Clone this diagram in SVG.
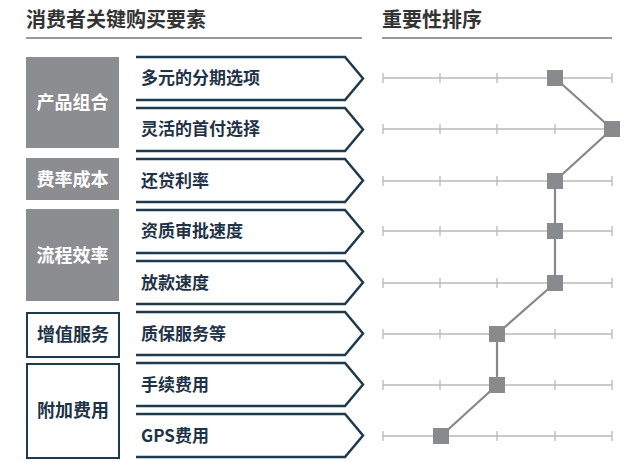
<svg xmlns="http://www.w3.org/2000/svg" width="640" height="462" viewBox="0 0 640 462">
<style>
text{font-family:"Noto Sans CJK SC","Liberation Sans",sans-serif;font-weight:bold}
.h{font-size:20px;fill:#333}
.g{font-size:18px;fill:#fff}
.gd{font-size:18px;fill:#1f3347}
.b{font-size:17px;fill:#1f3347}
.c{fill:none;stroke:#1f3a4d;stroke-width:2.5;stroke-linejoin:miter}
.gb{fill:#8b8d91}
.wb{fill:#fff;stroke:#1f3a4d;stroke-width:2}
.ax{stroke:#b8b8b8;stroke-width:1.3}
.sq{fill:#888a8e}
</style>
<defs>
<polyline id="chev" class="c" points="136,0 345,0 363,21.5 345,43 136,43"/>
<g id="axis">
<line class="ax" x1="383" y1="0" x2="612" y2="0"/>
<line class="ax" x1="383" y1="-5" x2="383" y2="5"/>
<line class="ax" x1="440" y1="-5" x2="440" y2="5"/>
<line class="ax" x1="497" y1="-5" x2="497" y2="5"/>
<line class="ax" x1="555" y1="-5" x2="555" y2="5"/>
<line class="ax" x1="612" y1="-5" x2="612" y2="5"/>
</g>
<rect id="sq" class="sq" x="-8" y="-8" width="16" height="16"/>
</defs>
<rect width="640" height="462" fill="#fff"/>
<text class="h" x="26" y="27">消费者关键购买要素</text>
<line x1="26" y1="38" x2="362" y2="38" stroke="#777" stroke-width="1.5"/>
<text class="h" x="382" y="27">重要性排序</text>
<line x1="382" y1="38" x2="612" y2="38" stroke="#777" stroke-width="1.5"/>
<g id="groups">
<g id="g1"><rect class="gb" x="26" y="57" width="93" height="91"/><text class="g" x="72.5" y="109" text-anchor="middle">产品组合</text></g>
<g id="g2"><rect class="gb" x="26" y="158" width="93" height="42"/><text class="g" x="72.5" y="186" text-anchor="middle">费率成本</text></g>
<g id="g3"><rect class="gb" x="26" y="209" width="93" height="92"/><text class="g" x="72.5" y="262" text-anchor="middle">流程效率</text></g>
<g id="g4"><rect class="wb" x="27" y="313" width="92" height="44"/><text class="gd" x="73" y="341" text-anchor="middle">增值服务</text></g>
<g id="g5"><rect class="wb" x="27" y="364" width="92" height="94"/><text class="gd" x="73" y="417" text-anchor="middle">附加费用</text></g>
</g>
<g id="axes">
<use href="#axis" y="78"/><use href="#axis" y="129"/><use href="#axis" y="181"/><use href="#axis" y="231"/>
<use href="#axis" y="283"/><use href="#axis" y="334"/><use href="#axis" y="385"/><use href="#axis" y="436"/>
</g>
<g id="connectors">
<polyline points="555,78 612,129 555,181 555,231 555,283 497,334 497,385 441,436" fill="none" stroke="#888" stroke-width="2.2"/>
</g>
<g id="markers">
<use href="#sq" x="555" y="78"/><use href="#sq" x="612" y="129"/><use href="#sq" x="555" y="181"/><use href="#sq" x="555" y="231"/>
<use href="#sq" x="555" y="283"/><use href="#sq" x="497" y="334"/><use href="#sq" x="497" y="385"/><use href="#sq" x="441" y="436"/>
</g>
<g id="r1"><use href="#chev" y="57"/><text class="b" x="141" y="84">多元的分期选项</text></g>
<g id="r2"><use href="#chev" y="108"/><text class="b" x="141" y="135">灵活的首付选择</text></g>
<g id="r3"><use href="#chev" y="159"/><text class="b" x="141" y="187">还贷利率</text></g>
<g id="r4"><use href="#chev" y="210"/><text class="b" x="141" y="237">资质审批速度</text></g>
<g id="r5"><use href="#chev" y="261"/><text class="b" x="141" y="289">放款速度</text></g>
<g id="r6"><use href="#chev" y="312"/><text class="b" x="141" y="340">质保服务等</text></g>
<g id="r7"><use href="#chev" y="363"/><text class="b" x="141" y="391">手续费用</text></g>
<g id="r8"><use href="#chev" y="414"/><text class="b" x="141" y="442">GPS费用</text></g>
</svg>
